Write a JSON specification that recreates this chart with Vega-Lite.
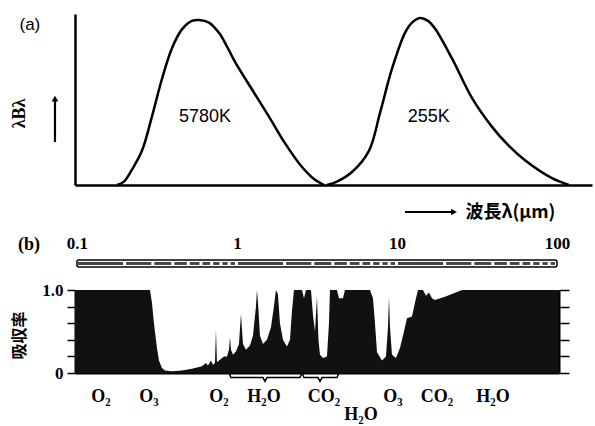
{
  "$schema": "https://vega.github.io/schema/vega-lite/v6.json",
  "padding": {"left": 10, "top": 12, "right": 2, "bottom": 2},
  "background": "white",
  "bounds": "flush",
  "spacing": 105,
  "config": {
    "view": {"stroke": null},
    "axis": {"grid": false, "domainColor": "black", "tickColor": "black", "labelColor": "black", "titleColor": "black"}
  },
  "vconcat": [
    {
      "width": 517,
      "height": 171,
      "resolve": {"axis": {"x": "independent", "y": "independent"}},
      "layer": [
        {
          "data": {"values": [
            {"s": "5780K", "lam": 0.178, "v": 0},
            {"s": "5780K", "lam": 0.1966, "v": 0.02},
            {"s": "5780K", "lam": 0.2207, "v": 0.09},
            {"s": "5780K", "lam": 0.2548, "v": 0.2},
            {"s": "5780K", "lam": 0.2942, "v": 0.4},
            {"s": "5780K", "lam": 0.3398, "v": 0.62},
            {"s": "5780K", "lam": 0.3924, "v": 0.8},
            {"s": "5780K", "lam": 0.4530, "v": 0.91},
            {"s": "5780K", "lam": 0.5233, "v": 0.96},
            {"s": "5780K", "lam": 0.579, "v": 0.965},
            {"s": "5780K", "lam": 0.668, "v": 0.95},
            {"s": "5780K", "lam": 0.772, "v": 0.89},
            {"s": "5780K", "lam": 0.866, "v": 0.81},
            {"s": "5780K", "lam": 0.972, "v": 0.72},
            {"s": "5780K", "lam": 1.24, "v": 0.56},
            {"s": "5780K", "lam": 1.585, "v": 0.40},
            {"s": "5780K", "lam": 1.995, "v": 0.245},
            {"s": "5780K", "lam": 2.55, "v": 0.105},
            {"s": "5780K", "lam": 3.03, "v": 0.035},
            {"s": "5780K", "lam": 3.5, "v": 0},
            {"s": "255K", "lam": 3.65, "v": 0},
            {"s": "255K", "lam": 4.217, "v": 0.02},
            {"s": "255K", "lam": 5.233, "v": 0.076},
            {"s": "255K", "lam": 6.68, "v": 0.2},
            {"s": "255K", "lam": 7.83, "v": 0.42},
            {"s": "255K", "lam": 9.31, "v": 0.68},
            {"s": "255K", "lam": 11.22, "v": 0.89},
            {"s": "255K", "lam": 12.41, "v": 0.95},
            {"s": "255K", "lam": 13.93, "v": 0.977},
            {"s": "255K", "lam": 15.62, "v": 0.96},
            {"s": "255K", "lam": 17.28, "v": 0.915},
            {"s": "255K", "lam": 22.07, "v": 0.74},
            {"s": "255K", "lam": 29.4, "v": 0.51},
            {"s": "255K", "lam": 39.3, "v": 0.34},
            {"s": "255K", "lam": 48.7, "v": 0.24},
            {"s": "255K", "lam": 63.1, "v": 0.145},
            {"s": "255K", "lam": 93.1, "v": 0.04},
            {"s": "255K", "lam": 118.6, "v": 0}
          ]},
          "mark": {"type": "line", "color": "black", "strokeWidth": 2.5, "interpolate": "catmull-rom"},
          "encoding": {
            "x": {"field": "lam", "type": "quantitative",
              "scale": {"type": "log", "domain": [0.09724, 165.5], "nice": false},
              "axis": {"orient": "bottom", "domain": true, "domainWidth": 2.5, "ticks": false, "labels": false, "grid": false,
                "title": "波長λ(μm)", "titleX": 390, "titleY": 27, "titleAlign": "left", "titleBaseline": "middle",
                "titleFont": "Noto Sans CJK JP", "titleFontSize": 18, "titleFontWeight": "bold"}},
            "y": {"field": "v", "type": "quantitative",
              "scale": {"domain": [0, 1], "nice": false},
              "axis": {"orient": "left", "domain": true, "domainWidth": 2.5, "ticks": false, "labels": false, "grid": false,
                "title": "λBλ", "titleX": -56, "titleY": 99, "titleAlign": "center", "titleBaseline": "middle",
                "titleFont": "Liberation Serif", "titleFontSize": 18, "titleFontWeight": "bold"}},
            "detail": {"field": "s"}
          }
        },
        {
          "data": {"values": [
            {"lam": 0.631, "v": 0.40, "t": "5780K", "fs": 18},
            {"lam": 15.8, "v": 0.40, "t": "255K", "fs": 18},
            {"lam": 0.0508, "v": 0.936, "t": "(a)", "fs": 17}
          ]},
          "mark": {"type": "text", "font": "Liberation Sans", "color": "black", "align": "center", "baseline": "middle"},
          "encoding": {
            "x": {"field": "lam", "type": "quantitative", "axis": null},
            "y": {"field": "v", "type": "quantitative", "axis": null},
            "text": {"field": "t"},
            "size": {"field": "fs", "type": "quantitative", "scale": null, "legend": null}
          }
        },
        {
          "data": {"values": [
            {"x1": 0.0729, "x2": 0.0729, "y1": 0.251, "y2": 0.50},
            {"x1": 11.22, "x2": 22.07, "y1": -0.158, "y2": -0.158}
          ]},
          "mark": {"type": "rule", "color": "black", "strokeWidth": 2.2},
          "encoding": {
            "x": {"field": "x1", "type": "quantitative", "axis": null},
            "x2": {"field": "x2"},
            "y": {"field": "y1", "type": "quantitative", "axis": null},
            "y2": {"field": "y2"}
          }
        },
        {
          "data": {"values": [
            {"x": 0.0729, "y": 0.505, "sh": "triangle-up"},
            {"x": 22.71, "y": -0.158, "sh": "triangle-right"}
          ]},
          "mark": {"type": "point", "filled": true, "color": "black", "opacity": 1, "size": 45},
          "encoding": {
            "x": {"field": "x", "type": "quantitative", "axis": null},
            "y": {"field": "y", "type": "quantitative", "axis": null},
            "shape": {"field": "sh", "type": "nominal", "scale": null, "legend": null}
          }
        }
      ]
    },
    {
      "width": 484,
      "height": 83,
      "resolve": {"axis": {"x": "independent", "y": "independent"}},
      "layer": [
        {
          "data": {"values": [
            {"lam": 0.09724, "v": 1.0},
            {"lam": 0.2860, "v": 1.0},
            {"lam": 0.2942, "v": 0.85},
            {"lam": 0.3029, "v": 0.6},
            {"lam": 0.3162, "v": 0.3},
            {"lam": 0.3255, "v": 0.15},
            {"lam": 0.3398, "v": 0.06},
            {"lam": 0.3548, "v": 0.03},
            {"lam": 0.3924, "v": 0.02},
            {"lam": 0.4530, "v": 0.03},
            {"lam": 0.5233, "v": 0.05},
            {"lam": 0.6043, "v": 0.08},
            {"lam": 0.6402, "v": 0.12},
            {"lam": 0.6589, "v": 0.09},
            {"lam": 0.6879, "v": 0.15},
            {"lam": 0.7079, "v": 0.1},
            {"lam": 0.7286, "v": 0.12},
            {"lam": 0.7392, "v": 0.52},
            {"lam": 0.7499, "v": 0.13},
            {"lam": 0.7830, "v": 0.16},
            {"lam": 0.8294, "v": 0.2},
            {"lam": 0.8660, "v": 0.2},
            {"lam": 0.8913, "v": 0.28},
            {"lam": 0.9042, "v": 0.43},
            {"lam": 0.9173, "v": 0.28},
            {"lam": 0.9441, "v": 0.22},
            {"lam": 0.9857, "v": 0.26},
            {"lam": 1.0292, "v": 0.35},
            {"lam": 1.0593, "v": 0.71},
            {"lam": 1.0902, "v": 0.35},
            {"lam": 1.1384, "v": 0.28},
            {"lam": 1.2057, "v": 0.33},
            {"lam": 1.2589, "v": 0.45},
            {"lam": 1.3145, "v": 0.8},
            {"lam": 1.3335, "v": 1.0},
            {"lam": 1.3530, "v": 0.85},
            {"lam": 1.3925, "v": 0.45},
            {"lam": 1.4537, "v": 0.35},
            {"lam": 1.5399, "v": 0.4},
            {"lam": 1.6312, "v": 0.55},
            {"lam": 1.7023, "v": 0.8},
            {"lam": 1.7522, "v": 1.0},
            {"lam": 1.8035, "v": 0.95},
            {"lam": 1.8566, "v": 0.6},
            {"lam": 1.9387, "v": 0.4},
            {"lam": 2.0535, "v": 0.32},
            {"lam": 2.1444, "v": 0.4},
            {"lam": 2.2070, "v": 0.75},
            {"lam": 2.2713, "v": 1.0},
            {"lam": 2.5491, "v": 1.0},
            {"lam": 2.6235, "v": 0.9},
            {"lam": 2.7004, "v": 1.0},
            {"lam": 2.9007, "v": 1.0},
            {"lam": 2.9854, "v": 0.7},
            {"lam": 3.0726, "v": 0.5},
            {"lam": 3.1623, "v": 0.92},
            {"lam": 3.2311, "v": 0.4},
            {"lam": 3.3030, "v": 0.22},
            {"lam": 3.4474, "v": 0.18},
            {"lam": 3.6517, "v": 0.2},
            {"lam": 3.7584, "v": 0.6},
            {"lam": 3.8130, "v": 1.0},
            {"lam": 4.2170, "v": 1.0},
            {"lam": 4.3412, "v": 0.9},
            {"lam": 4.5973, "v": 0.9},
            {"lam": 4.7315, "v": 1.0},
            {"lam": 6.7842, "v": 1.0},
            {"lam": 7.0795, "v": 0.9},
            {"lam": 7.2862, "v": 0.6},
            {"lam": 7.4989, "v": 0.25},
            {"lam": 8.0591, "v": 0.15},
            {"lam": 8.5368, "v": 0.2},
            {"lam": 8.7862, "v": 0.55},
            {"lam": 8.9125, "v": 0.92},
            {"lam": 9.0430, "v": 0.55},
            {"lam": 9.3057, "v": 0.22},
            {"lam": 9.8572, "v": 0.18},
            {"lam": 10.441, "v": 0.3},
            {"lam": 11.059, "v": 0.5},
            {"lam": 11.548, "v": 0.66},
            {"lam": 12.409, "v": 0.68},
            {"lam": 12.957, "v": 0.85},
            {"lam": 13.530, "v": 1.0},
            {"lam": 14.537, "v": 1.0},
            {"lam": 15.180, "v": 0.93},
            {"lam": 15.849, "v": 0.97},
            {"lam": 16.548, "v": 0.9},
            {"lam": 17.280, "v": 0.88},
            {"lam": 19.953, "v": 0.92},
            {"lam": 25.481, "v": 1.0},
            {"lam": 102.92, "v": 1.0}
          ]},
          "mark": {"type": "area", "color": "#111111", "interpolate": "linear"},
          "encoding": {
            "x": {"field": "lam", "type": "quantitative",
              "scale": {"type": "log", "domain": [0.09724, 102.92], "nice": false},
              "axis": {"orient": "top", "values": [0.1, 1, 10, 100], "format": "~g", "ticks": false, "tickSize": 0, "domain": false,
                "labelPadding": 38, "labelFont": "Liberation Serif", "labelFontSize": 17, "labelFontWeight": "bold",
                "labelFlush": false, "labelOverlap": false, "title": null, "grid": false}},
            "y": {"field": "v", "type": "quantitative",
              "scale": {"domain": [0, 1], "nice": false},
              "axis": {"orient": "left", "values": [0, 0.2, 0.4, 0.6, 0.8, 1], "tickSize": 8, "tickWidth": 1.5, "domainWidth": 2,
                "labelExpr": "datum.value == 0 ? '0' : (datum.value == 1 ? '1.0' : '')",
                "labelFont": "Liberation Serif", "labelFontSize": 17, "labelFontWeight": "bold", "labelPadding": 4, "labelFlush": false,
                "grid": false, "title": "吸収率", "titleX": -56, "titleY": 45, "titleAlign": "center", "titleBaseline": "middle",
                "titleFont": "Noto Sans CJK JP", "titleFontSize": 16, "titleFontWeight": "bold"}}
          }
        },
        {
          "data": {"values": [{"a": 0.1, "b": 100, "y1": 1.277, "y2": 1.361}]},
          "mark": {"type": "rect", "fill": "white", "stroke": "black", "strokeWidth": 1.5, "cornerRadius": 2},
          "encoding": {
            "x": {"field": "a", "type": "quantitative",
              "axis": {"orient": "bottom", "domain": true, "domainWidth": 2, "ticks": false, "labels": false, "title": null, "grid": false}},
            "x2": {"field": "b"},
            "y": {"field": "y1", "type": "quantitative",
              "axis": {"orient": "right", "values": [0, 0.2, 0.4, 0.6, 0.8, 1], "tickSize": 10, "tickWidth": 1.5, "domainWidth": 2,
                "labels": false, "title": null, "grid": false}},
            "y2": {"field": "y2"}
          }
        },
        {
          "data": {"values": [
            {"a": 0.1, "b": 0.2}, {"a": 0.2, "b": 0.3}, {"a": 0.3, "b": 0.4}, {"a": 0.4, "b": 0.5}, {"a": 0.5, "b": 0.6},
            {"a": 0.6, "b": 0.7}, {"a": 0.7, "b": 0.8}, {"a": 0.8, "b": 0.9}, {"a": 0.9, "b": 1},
            {"a": 1, "b": 2}, {"a": 2, "b": 3}, {"a": 3, "b": 4}, {"a": 4, "b": 5}, {"a": 5, "b": 6},
            {"a": 6, "b": 7}, {"a": 7, "b": 8}, {"a": 8, "b": 9}, {"a": 9, "b": 10},
            {"a": 10, "b": 20}, {"a": 20, "b": 30}, {"a": 30, "b": 40}, {"a": 40, "b": 50}, {"a": 50, "b": 60},
            {"a": 60, "b": 70}, {"a": 70, "b": 80}, {"a": 80, "b": 90}, {"a": 90, "b": 100}
          ]},
          "mark": {"type": "rect", "fill": "#444444", "x2Offset": -2, "xOffset": 1},
          "encoding": {
            "x": {"field": "a", "type": "quantitative", "axis": null},
            "x2": {"field": "b"},
            "y": {"datum": 1.302, "type": "quantitative", "axis": null},
            "y2": {"datum": 1.337}
          }
        },
        {
          "data": {"values": [
            {"b": "h", "lam": 0.8913, "v": 0.0},
            {"b": "h", "lam": 0.9173, "v": -0.055},
            {"b": "h", "lam": 1.4537, "v": -0.055},
            {"b": "h", "lam": 1.4962, "v": -0.1},
            {"b": "h", "lam": 1.5399, "v": -0.055},
            {"b": "h", "lam": 2.4762, "v": -0.055},
            {"b": "h", "lam": 2.5491, "v": 0.0},
            {"b": "c", "lam": 2.5491, "v": 0.0},
            {"b": "c", "lam": 2.6235, "v": -0.055},
            {"b": "c", "lam": 3.2081, "v": -0.055},
            {"b": "c", "lam": 3.3030, "v": -0.1},
            {"b": "c", "lam": 3.4000, "v": -0.055},
            {"b": "c", "lam": 4.2170, "v": -0.055},
            {"b": "c", "lam": 4.3412, "v": 0.0}
          ]},
          "mark": {"type": "line", "color": "black", "strokeWidth": 1.5},
          "encoding": {
            "x": {"field": "lam", "type": "quantitative", "axis": null},
            "y": {"field": "v", "type": "quantitative", "axis": null},
            "detail": {"field": "b"}
          }
        },
        {
          "data": {"values": [
            {"lam": 0.1413, "v": -0.289, "t": "O₂"},
            {"lam": 0.2818, "v": -0.289, "t": "O₃"},
            {"lam": 0.772, "v": -0.289, "t": "O₂"},
            {"lam": 1.475, "v": -0.289, "t": "H₂O"},
            {"lam": 3.497, "v": -0.289, "t": "CO₂"},
            {"lam": 5.957, "v": -0.506, "t": "H₂O"},
            {"lam": 9.441, "v": -0.289, "t": "O₃"},
            {"lam": 17.78, "v": -0.289, "t": "CO₂"},
            {"lam": 39.81, "v": -0.289, "t": "H₂O"},
            {"lam": 0.0501, "v": 1.542, "t": "(b)"}
          ]},
          "mark": {"type": "text", "font": "Liberation Serif", "fontSize": 18, "fontWeight": "bold", "color": "black", "align": "center", "baseline": "middle"},
          "encoding": {
            "x": {"field": "lam", "type": "quantitative", "axis": null},
            "y": {"field": "v", "type": "quantitative", "axis": null},
            "text": {"field": "t"}
          }
        }
      ]
    }
  ]
}
